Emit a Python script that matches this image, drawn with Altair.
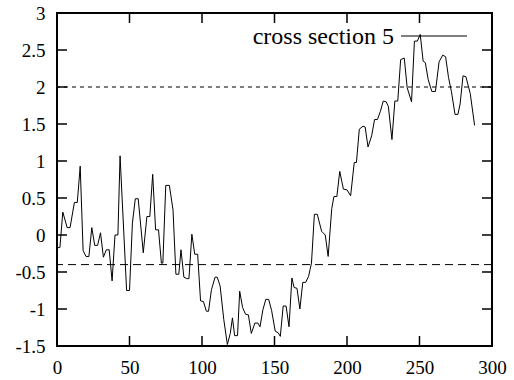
import altair as alt
import pandas as pd

xs = [0, 2, 4, 7, 9, 12, 14, 16, 18, 20, 22, 24, 26, 28, 30, 32, 34, 36, 38, 40,
      42, 43.5, 48, 50, 52, 54, 56, 59.5, 62, 64, 66, 68, 70, 72, 73, 75, 77.5, 80, 82, 84,
      85.5, 87.5, 89.5, 91, 93, 95, 97, 99, 101, 103, 104.5, 106.5, 109, 110.5, 112.5, 115, 117.5, 119.5, 121, 122.5,
      124.5, 126, 128, 130, 132, 134, 136.5, 138.5, 140, 142, 144, 146, 148, 150.5, 152.5, 154, 156, 158, 160, 162,
      163.5, 165.5, 167.5, 169.5, 171.5, 173.5, 174.5, 175.5, 177.5, 179.5, 182.5, 185, 187, 189.5, 191, 193, 195, 197.5, 200, 202.5,
      205, 206.5, 208.5, 211, 212.5, 214.5, 217, 219, 221, 223, 225, 227, 228.5, 231, 233, 235, 237, 239.5, 241.5, 244.5,
      246.5, 248.5, 250.5, 252.5, 254, 256, 258.5, 261, 263.5, 266, 268, 270, 272, 274.5, 276.5, 278, 280, 282, 285, 288]
ys = [-0.17, -0.17, 0.31, 0.10, 0.10, 0.44, 0.44, 0.93, -0.21, -0.29, -0.29, 0.10, -0.14, -0.14, 0.03, -0.30, -0.20, -0.20, -0.62, 0.00,
      0.00, 1.07, -0.75, -0.75, 0.16, 0.49, 0.49, -0.24, 0.25, 0.25, 0.82, 0.07, 0.07, -0.38, -0.38, 0.67, 0.67, 0.34, -0.53, -0.53,
      -0.20, -0.57, -0.59, -0.59, 0.01, -0.26, -0.26, -0.89, -0.90, -1.03, -1.03, -0.74, -0.57, -0.57, -0.69, -1.14, -1.48, -1.33, -1.12, -1.36,
      -1.36, -0.76, -0.98, -1.07, -1.08, -1.33, -1.19, -1.19, -1.24, -1.01, -0.87, -0.87, -1.02, -1.30, -1.32, -1.37, -0.96, -0.96, -1.24, -0.58,
      -0.71, -0.72, -1.00, -0.64, -0.64, -0.56, -0.47, -0.38, 0.28, 0.28, 0.05, 0.00, -0.29, 0.36, 0.52, 0.52, 0.86, 0.62, 0.61, 0.53,
      0.98, 0.98, 1.43, 1.47, 1.46, 1.19, 1.34, 1.56, 1.56, 1.67, 1.81, 1.80, 1.74, 1.29, 1.81, 1.81, 2.37, 2.39, 1.99, 1.80,
      2.62, 2.62, 2.71, 2.35, 2.33, 2.10, 1.94, 1.94, 2.34, 2.43, 2.41, 2.13, 1.94, 1.63, 1.63, 1.77, 2.15, 2.14, 1.91, 1.48]

x_ticks = [0, 50, 100, 150, 200, 250, 300]
y_ticks = [-1.5, -1, -0.5, 0, 0.5, 1, 1.5, 2, 2.5, 3]
upper_level = 2.0
lower_level = -0.4
legend_label = "cross section 5"

W, H = 435, 333
FONT = "Liberation Serif"
FS = 19
LEG_FS = 24

df = pd.DataFrame({"x": xs, "y": ys})
xt = pd.DataFrame({"t": x_ticks})
yt = pd.DataFrame({"t": y_ticks})

xscale = alt.Scale(domain=[0, 300], nice=False, zero=False)
yscale = alt.Scale(domain=[-1.5, 3], nice=False, zero=False)

xaxis = alt.Axis(values=x_ticks, title=None, grid=False, domain=False, ticks=False,
                 labelPadding=12, labelFont=FONT, labelFontSize=FS, labelColor="black",
                 labelOverlap=False, labelFlush=False, labelExpr="'' + datum.value")
yaxis = alt.Axis(values=y_ticks, title=None, grid=False, domain=False, ticks=False,
                 labelPadding=12, labelFont=FONT, labelFontSize=FS, labelColor="black",
                 labelOverlap=False, labelFlush=False, labelExpr="'' + datum.value")

line = alt.Chart(df).mark_line(color="black", strokeWidth=1).encode(
    x=alt.X("x:Q", scale=xscale, axis=xaxis),
    y=alt.Y("y:Q", scale=yscale, axis=yaxis),
)

upper = alt.Chart(pd.DataFrame({"v": [upper_level]})).mark_rule(
    color="black", strokeWidth=1, strokeDash=[4, 4]).encode(y=alt.Y("v:Q", scale=yscale, axis=yaxis))
lower = alt.Chart(pd.DataFrame({"v": [lower_level]})).mark_rule(
    color="black", strokeWidth=1, strokeDash=[8, 5]).encode(y=alt.Y("v:Q", scale=yscale, axis=yaxis))

TL = 10
xt_bot = alt.Chart(xt).mark_rule(color="black", strokeWidth=1.5).encode(
    x=alt.X("t:Q", scale=xscale, axis=xaxis), y=alt.value(H), y2=alt.value(H - TL))
xt_top = alt.Chart(xt).mark_rule(color="black", strokeWidth=1.5).encode(
    x=alt.X("t:Q", scale=xscale, axis=xaxis), y=alt.value(0), y2=alt.value(TL))
yt_left = alt.Chart(yt).mark_rule(color="black", strokeWidth=1.5).encode(
    y=alt.Y("t:Q", scale=yscale, axis=yaxis), x=alt.value(0), x2=alt.value(TL))
yt_right = alt.Chart(yt).mark_rule(color="black", strokeWidth=1.5).encode(
    y=alt.Y("t:Q", scale=yscale, axis=yaxis), x=alt.value(W), x2=alt.value(W - TL))

leg_text = alt.Chart(pd.DataFrame({"l": [legend_label]})).mark_text(
    font=FONT, fontSize=LEG_FS, color="black", align="right", baseline="middle").encode(
    text="l:N", x=alt.value(337), y=alt.value(24))
leg_line = alt.Chart(pd.DataFrame({"l": [legend_label]})).mark_rule(
    color="black", strokeWidth=1).encode(x=alt.value(344), x2=alt.value(410), y=alt.value(23))

chart = alt.layer(line, upper, lower, xt_bot, xt_top, yt_left, yt_right, leg_text, leg_line).properties(
    width=W, height=H,
    background="white",
    autosize=alt.AutoSizeParams(type="none"),
    padding={"left": 57, "top": 13, "right": 22, "bottom": 34},
).configure_view(stroke="black", strokeWidth=2)

chart.save("out.html", embed_options={"renderer": "svg", "actions": False})
